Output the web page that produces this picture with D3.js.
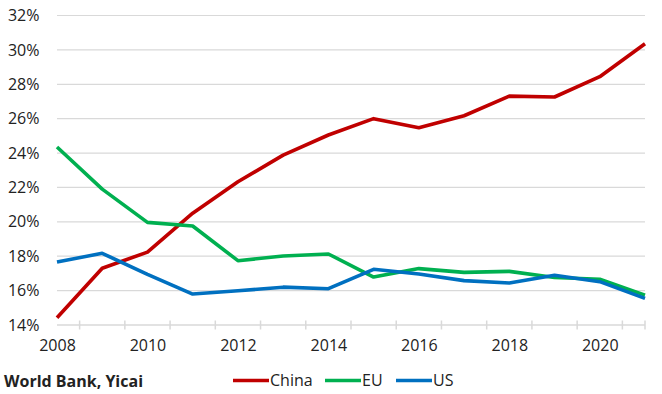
<!DOCTYPE html>
<html>
<head>
<meta charset="utf-8">
<script src="https://cdn.jsdelivr.net/npm/d3@7"></script>
<style>
  html, body { margin: 0; padding: 0; background: #fff; }
  svg { display: block; }
  text { font-family: "Open Sans", "Noto Sans", sans-serif; fill: #222; }
</style>
</head>
<body>
<svg id="chart" width="662" height="394"></svg>
<script>
const years = [2008, 2009, 2010, 2011, 2012, 2013, 2014, 2015, 2016, 2017, 2018, 2019, 2020, 2021];
const china = [14.42, 17.3, 18.24, 20.5, 22.33, 23.88, 25.05, 26.0, 25.47, 26.17, 27.31, 27.26, 28.44, 30.36];
const eu    = [24.35, 21.9, 19.97, 19.76, 17.74, 18.01, 18.13, 16.79, 17.28, 17.06, 17.12, 16.76, 16.66, 15.74];
const us    = [17.66, 18.17, 16.95, 15.8, 15.99, 16.2, 16.11, 17.24, 16.97, 16.58, 16.44, 16.89, 16.52, 15.55];
const seriesNames = ["China", "EU", "US"];
const seriesColors = ["#C00000", "#00B050", "#0070C0"];
const yTicks = [14, 16, 18, 20, 22, 24, 26, 28, 30, 32];
const xLabels = [2008, 2010, 2012, 2014, 2016, 2018, 2020];
const source = "World Bank, Yicai";

const seriesData = [china, eu, us];
const svg = d3.select("#chart");

const x = d3.scaleLinear().domain([2008, 2021]).range([57, 645]);
const y = d3.scaleLinear().domain([14, 32]).range([325, 15.5]);

// Gridlines
svg.append("g")
  .selectAll("line")
  .data(yTicks.slice(1))
  .join("line")
  .attr("x1", x(2008)).attr("x2", x(2021))
  .attr("y1", d => y(d)).attr("y2", d => y(d))
  .attr("stroke", "#D9D9D9").attr("stroke-width", 1.2);

// Y labels
const yAxis = d3.axisLeft(y).tickValues(yTicks).tickSize(0).tickPadding(0)
  .tickFormat(d => d + "%");
svg.append("g")
  .attr("transform", "translate(39.5,0)")
  .call(yAxis)
  .call(g => g.select(".domain").remove())
  .call(g => g.selectAll("text").attr("font-size", 16)
      .style("font-family", '"Open Sans", sans-serif').attr("fill", "#222"));

// X axis line
svg.append("line")
  .attr("x1", x(2008)).attr("x2", x(2021))
  .attr("y1", y(14)).attr("y2", y(14))
  .attr("stroke", "#D9D9D9").attr("stroke-width", 1.5);

// X tick marks (between categories, crossing)
const tickPos = years.slice(0, -1).map(d => d + 0.5).concat([2021]);
svg.append("g")
  .selectAll("line")
  .data(tickPos)
  .join("line")
  .attr("x1", d => x(d)).attr("x2", d => x(d))
  .attr("y1", y(14) - 4.5).attr("y2", y(14) + 4.5)
  .attr("stroke", "#D9D9D9").attr("stroke-width", 1.5);

// X labels
const xAxis = d3.axisBottom(x).tickValues(xLabels).tickSize(0).tickPadding(0)
  .tickFormat(d3.format("d"));
svg.append("g")
  .attr("transform", `translate(0,${y(14) + 15})`)
  .call(xAxis)
  .call(g => g.select(".domain").remove())
  .call(g => g.selectAll("text").attr("font-size", 16)
      .style("font-family", '"Open Sans", sans-serif').attr("fill", "#222"));

// Lines
const line = d3.line().x((d, i) => x(years[i])).y(d => y(d));
svg.append("g")
  .selectAll("path")
  .data(seriesData)
  .join("path")
  .attr("d", d => line(d))
  .attr("fill", "none")
  .attr("stroke", (d, i) => seriesColors[i])
  .attr("stroke-width", 3.6)
  .attr("stroke-linejoin", "round");

// Source
svg.append("text")
  .attr("x", 4).attr("y", 387)
  .attr("font-size", 16).attr("font-weight", "bold")
  .attr("fill", "#111")
  .text(source);

// Legend
const legendX = [233, 325, 396];
const lg = svg.append("g")
  .selectAll("g")
  .data(seriesNames)
  .join("g")
  .attr("transform", (d, i) => `translate(${legendX[i]},380.5)`);
lg.append("line")
  .attr("x1", 0).attr("x2", 36).attr("y1", 0).attr("y2", 0)
  .attr("stroke", (d, i) => seriesColors[i]).attr("stroke-width", 3.6);
lg.append("text")
  .attr("x", 37).attr("y", 0).attr("dy", "0.36em")
  .attr("font-size", 16)
  .text(d => d);
</script>
</body>
</html>
